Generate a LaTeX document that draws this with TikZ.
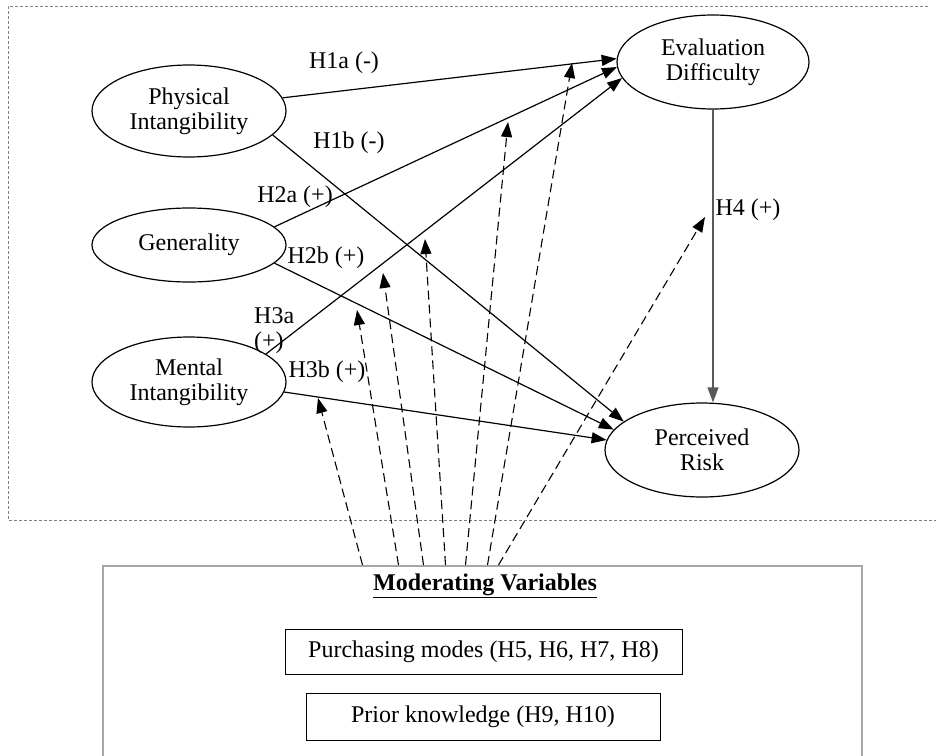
\documentclass[tikz,border=0pt]{standalone}
\usepackage{fontspec}
\setmainfont{Liberation Serif}
\usetikzlibrary{arrows.meta,shapes.geometric}

\begin{document}
\begin{tikzpicture}[x=1pt,y=-1pt,>={Triangle[length=15pt,width=11pt]},
  every node/.style={font=\fontsize{24}{25}\selectfont},
  construct/.style={ellipse,draw,line width=1.2pt,inner sep=0pt,align=center,minimum width=194pt},
  hyp/.style={->,line width=1.2pt},
  modarrow/.style={->,line width=1.1pt,dash pattern=on 9pt off 5pt},
  hlabel/.style={inner sep=0pt}]
\useasboundingbox (0,0) rectangle (936,755);

% Dashed frame round the model
\draw[gray,line width=0.8pt,dash pattern=on 3pt off 2pt] (928,6) -- (8,6) -- (8,520) -- (936,520);

% Constructs
\node[construct,minimum height=92pt] (phys) at (189,111) {Physical\\Intangibility};
\node[construct,minimum height=74pt] (gen) at (189,245) {Generality};
\node[construct,minimum height=90pt] (ment) at (189,382) {Mental\\Intangibility};
\node[construct,minimum width=192pt,minimum height=94pt] (eval) at (713,62) {Evaluation\\Difficulty};
\node[construct,minimum height=94pt] (risk) at (702,450) {Perceived\\Risk};

% Hypothesised paths
\draw[hyp] (phys.8) -- (eval.178);
\draw[hyp] (phys.-16) -- (risk.160);
\draw[hyp] (gen.12) -- (eval.183);
\draw[hyp] (gen.-12) -- (risk.167);
\draw[hyp] (ment.20) -- (eval.190);
\draw[hyp] (ment.-6) -- (risk.174);
\draw[hyp,draw=black!65] (eval.south) -- (eval.south |- risk.north);

% Path labels
\node[hlabel] (l1a) at (344,63) {H1a (-)};
\node[hlabel] (l1b) at (349,143) {H1b (-)};
\node[hlabel] (l2a) at (295,197) {H2a (+)};
\node[hlabel] (l2b) at (326,258) {H2b (+)};
\node[hlabel,anchor=west] (l3a) at (254,316) {H3a};
\node[hlabel,anchor=west] (l3p) at (254,343) {(+)};
\node[hlabel] (l3b) at (327,372) {H3b (+)};
\node[hlabel] (l4) at (748,210) {H4 (+)};

% Moderating variables box (runs off the page at the bottom)
\node[draw=gray!70,line width=1.5pt,minimum width=759pt,minimum height=220pt,anchor=north,inner sep=0pt] (modbox) at (482.5,565) {};
\node[font=\bfseries\fontsize{24}{25}\selectfont] (modtitle) at (485,586) {\underline{Moderating Variables}};
\node[draw,line width=0.9pt,minimum width=397pt,minimum height=45pt,inner sep=0pt] (purch) at (483.5,651.5) {Purchasing modes (H5, H6, H7, H8)};
\node[draw,line width=0.9pt,minimum width=354pt,minimum height=47pt,inner sep=0pt] (prior) at (483,716.5) {Prior knowledge (H9, H10)};

% Moderating effects
\coordinate (m1) at (318,398);
\coordinate (m2) at (357,310);
\coordinate (m3) at (383,273);
\coordinate (m4) at (425,239);
\coordinate (m5) at (508,122);
\coordinate (m6) at (572,63);
\coordinate (m7) at (705,217);
\foreach \dx [count=\i] in {-120,-84,-59,-37,-17,5,16}
  \draw[modarrow] ([xshift=\dx pt]modbox.north) -- (m\i);
\end{tikzpicture}
\end{document}
